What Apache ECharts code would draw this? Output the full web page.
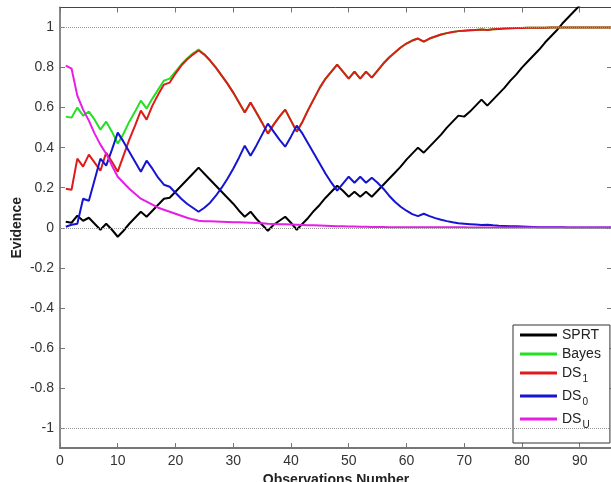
<!DOCTYPE html>
<html>
<head>
<meta charset="utf-8">
<style>
  html, body { margin: 0; padding: 0; background: #fff; }
  #chart { width: 611px; height: 482px; }
</style>
<script src="https://cdn.jsdelivr.net/npm/echarts@6.0.0/dist/echarts.min.js"></script>
</head>
<body>
<div id="chart"></div>
<script>
// tick labels
const xTicks = [0, 10, 20, 30, 40, 50, 60, 70, 80, 90]
const yTicks = [-1, -0.8, -0.6, -0.4, -0.2, 0, 0.2, 0.4, 0.6, 0.8, 1]
const refLines = [1, 0, -1]

// evidence per observation (observation 1, 2, 3 ...)
const sprt = [
  0.03, 0.025, 0.06, 0.035, 0.05, 0.02, -0.01, 0.02, -0.01, -0.045,
  -0.015, 0.02, 0.05, 0.08, 0.055, 0.085, 0.115, 0.145, 0.15, 0.18,
  0.21, 0.24, 0.27, 0.30, 0.27, 0.24, 0.21, 0.18, 0.15, 0.12,
  0.085, 0.055, 0.08, 0.045, 0.015, -0.015, 0.015, 0.035, 0.055, 0.025,
  -0.01, 0.02, 0.05, 0.085, 0.115, 0.15, 0.18, 0.21, 0.185, 0.155,
  0.18, 0.155, 0.18, 0.155, 0.185, 0.215, 0.245, 0.275, 0.305, 0.34,
  0.37, 0.40, 0.375, 0.405, 0.435, 0.465, 0.50, 0.53, 0.56, 0.555,
  0.58, 0.61, 0.64, 0.61, 0.64, 0.67, 0.70, 0.735, 0.765, 0.80,
  0.83, 0.86, 0.89, 0.925, 0.955, 0.985, 1.02, 1.05, 1.08, 1.11, 1.14
]
const bayes = [
  0.555, 0.55, 0.60, 0.56, 0.58, 0.54, 0.49, 0.53, 0.48, 0.42,
  0.47, 0.53, 0.58, 0.635, 0.595, 0.645, 0.69, 0.735, 0.745, 0.78,
  0.815, 0.845, 0.87, 0.89, 0.865, 0.835, 0.80, 0.76, 0.72, 0.675,
  0.625, 0.575, 0.625, 0.575, 0.525, 0.47, 0.515, 0.555, 0.59, 0.535,
  0.48, 0.53, 0.59, 0.645, 0.70, 0.745, 0.78, 0.815, 0.78, 0.745,
  0.78, 0.745, 0.78, 0.75, 0.785, 0.82, 0.85, 0.875, 0.90, 0.92,
  0.935, 0.945, 0.93, 0.945, 0.955, 0.965, 0.972, 0.978, 0.982, 0.984,
  0.986, 0.988, 0.99, 0.988, 0.991, 0.993, 0.995, 0.996, 0.997, 0.998,
  0.999, 0.999, 0.999, 0.999, 1, 1, 1, 1, 1, 1, 1, 1, 1, 1, 1, 1
]
const ds1 = [
  0.195, 0.19, 0.345, 0.305, 0.365, 0.325, 0.285, 0.375, 0.33, 0.28,
  0.36, 0.44, 0.51, 0.585, 0.54, 0.61, 0.665, 0.715, 0.725, 0.77,
  0.81, 0.84, 0.865, 0.885, 0.865, 0.835, 0.80, 0.76, 0.72, 0.675,
  0.625, 0.575, 0.625, 0.575, 0.525, 0.47, 0.515, 0.555, 0.59, 0.535,
  0.48, 0.53, 0.59, 0.645, 0.70, 0.745, 0.78, 0.815, 0.78, 0.745,
  0.78, 0.745, 0.78, 0.75, 0.785, 0.82, 0.85, 0.875, 0.90, 0.92,
  0.935, 0.945, 0.93, 0.945, 0.955, 0.965, 0.972, 0.978, 0.982, 0.984,
  0.986, 0.988, 0.99, 0.988, 0.991, 0.993, 0.995, 0.996, 0.997, 0.998,
  0.999, 0.999, 0.999, 0.999, 1, 1, 1, 1, 1, 1, 1, 1, 1, 1, 1, 1
]
const ds0 = [
  0.005, 0.015, 0.02, 0.145, 0.135, 0.24, 0.345, 0.31, 0.39, 0.475,
  0.43, 0.38, 0.33, 0.28, 0.335, 0.295, 0.25, 0.215, 0.205, 0.175,
  0.145, 0.12, 0.10, 0.08, 0.10, 0.125, 0.16, 0.20, 0.245, 0.295,
  0.35, 0.41, 0.36, 0.41, 0.465, 0.52, 0.48, 0.44, 0.405, 0.455,
  0.51, 0.47, 0.42, 0.37, 0.32, 0.27, 0.225, 0.185, 0.22, 0.255,
  0.225, 0.255, 0.225, 0.25, 0.225, 0.195, 0.16, 0.13, 0.105, 0.085,
  0.068, 0.058, 0.07, 0.058, 0.048, 0.04, 0.033, 0.027, 0.022, 0.02,
  0.018, 0.016, 0.014, 0.015, 0.012, 0.01, 0.009, 0.008, 0.007, 0.006,
  0.005, 0.004, 0.003, 0.003, 0.002, 0.002, 0.002, 0.001, 0.001, 0.001,
  0.001, 0.001, 0.001, 0.001, 0.001, 0.001
]
const dsU = [
  0.81, 0.795, 0.66, 0.59, 0.535, 0.47, 0.415, 0.37, 0.31, 0.255,
  0.225, 0.195, 0.17, 0.145, 0.13, 0.115, 0.10, 0.09, 0.08, 0.07,
  0.06, 0.05, 0.042, 0.035, 0.033, 0.032, 0.031, 0.03, 0.029, 0.028,
  0.027, 0.026, 0.025, 0.024, 0.022, 0.02, 0.019, 0.018, 0.017, 0.016,
  0.015, 0.014, 0.013, 0.012, 0.011, 0.01, 0.009, 0.008, 0.007, 0.006,
  0.006, 0.005, 0.005, 0.004, 0.004, 0.004, 0.003, 0.003, 0.003, 0.003,
  0.002, 0.002, 0.002, 0.002, 0.002, 0.002, 0.002, 0.002, 0.002, 0.002,
  0.001, 0.001, 0.001, 0.001, 0.001, 0.001, 0.001, 0.001, 0.001, 0.001,
  0.001, 0.001, 0.001, 0.001, 0.001, 0.001, 0.001, 0.001, 0.001, 0.001,
  0.001, 0.001, 0.001, 0.001, 0.001, 0.001
]

const font = '"Liberation Sans", Arial, sans-serif'

function toPoints(values) {
  return values.map((v, i) => [i + 1, v])
}

function makeSeries(name, values, color) {
  return {
    name: name,
    type: 'line',
    data: toPoints(values),
    symbol: 'none',
    showSymbol: false,
    clip: true,
    lineStyle: { color: color, width: 2 },
    itemStyle: { color: color },
    emphasis: { disabled: true }
  }
}

const chart = echarts.init(document.getElementById('chart'))

const series = [
  makeSeries('SPRT', sprt, '#000000'),
  makeSeries('Bayes', bayes, '#22e022'),
  makeSeries('DS1', ds1, '#e01a1a'),
  makeSeries('DS0', ds0, '#1414d2'),
  makeSeries('DSU', dsU, '#e61ee6')
]
series[0].markLine = {
  silent: true,
  symbol: 'none',
  label: { show: false },
  lineStyle: { color: '#9a9a9a', type: 'dotted', width: 1 },
  data: refLines.map(v => ({ yAxis: v }))
}

chart.setOption({
  animation: false,
  backgroundColor: '#ffffff',
  textStyle: { fontFamily: font },
  grid: {
    left: 60,
    right: -1,
    top: 7.5,
    bottom: 34,
    containLabel: false,
    outerBoundsMode: 'none'
  },
  legend: {
    orient: 'vertical',
    left: 513,
    top: 325,
    selectedMode: false,
    backgroundColor: '#ffffff',
    borderColor: '#333333',
    borderWidth: 1,
    borderRadius: 0,
    padding: [3, 9, 13, 7],
    itemGap: 5,
    itemWidth: 37,
    itemHeight: 3,
    icon: 'rect',
    textStyle: {
      color: '#222222',
      fontSize: 14,
      fontFamily: font,
      rich: {
        n: { fontSize: 14, lineHeight: 16, fontFamily: font, color: '#222222' },
        d: { fontSize: 14, lineHeight: 21, fontFamily: font, color: '#222222' },
        s: { fontSize: 10, fontFamily: font, color: '#222222', padding: [12, 0, 0, 1] }
      }
    },
    formatter: function(name) {
      if (name.indexOf('DS') === 0) {
        return '{d|DS}{s|' + name.slice(2) + '}'
      }
      return '{n|' + name + '}'
    },
    data: ['SPRT', 'Bayes', 'DS1', 'DS0', 'DSU']
  },
  xAxis: [{
    type: 'value',
    min: 0,
    max: 95.6,
    name: 'Observations Number',
    nameLocation: 'middle',
    nameGap: 22,
    nameTextStyle: { fontSize: 14, fontWeight: 'bold', color: '#222222', fontFamily: font },
    axisLine: { show: true, onZero: false, lineStyle: { color: '#777777', width: 2 } },
    axisTick: { show: true, inside: true, length: 5, customValues: xTicks, lineStyle: { color: '#777777' } },
    axisLabel: { margin: 6, fontSize: 14, color: '#333333', customValues: xTicks },
    splitLine: { show: false }
  }, {
    type: 'value',
    position: 'top',
    min: 0,
    max: 95.6,
    axisLine: { show: true, onZero: false, lineStyle: { color: '#444444', width: 1 } },
    axisTick: { show: true, inside: true, length: 5, customValues: xTicks, lineStyle: { color: '#777777' } },
    axisLabel: { show: false },
    splitLine: { show: false }
  }],
  yAxis: [{
    type: 'value',
    min: -1.1,
    max: 1.1,
    name: 'Evidence',
    nameLocation: 'middle',
    nameGap: 36,
    nameMoveOverlap: false,
    nameTextStyle: { fontSize: 14, fontWeight: 'bold', color: '#222222', fontFamily: font },
    axisLine: { show: true, onZero: false, lineStyle: { color: '#888888', width: 2 } },
    axisTick: { show: true, inside: true, length: 5, customValues: yTicks, lineStyle: { color: '#777777' } },
    axisLabel: { margin: 6, fontSize: 14, color: '#333333', customValues: yTicks },
    splitLine: { show: false }
  }, {
    type: 'value',
    position: 'right',
    min: -1.1,
    max: 1.1,
    axisLine: { show: true, onZero: false, lineStyle: { color: '#777777', width: 1 } },
    axisTick: { show: true, inside: true, length: 5, customValues: yTicks, lineStyle: { color: '#777777' } },
    axisLabel: { show: false },
    splitLine: { show: false }
  }],
  series: series
})
</script>
</body>
</html>
